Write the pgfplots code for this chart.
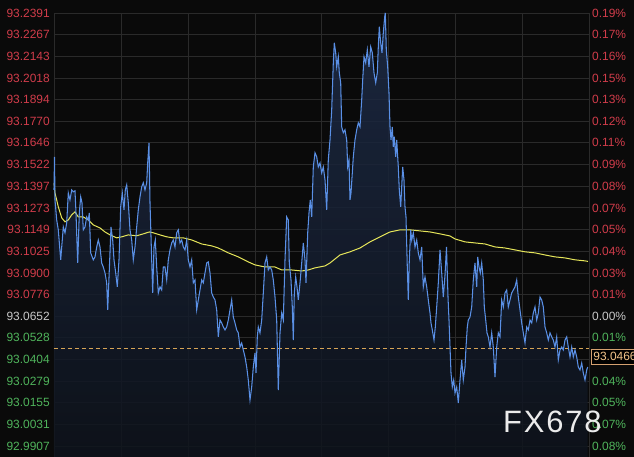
\documentclass[border=0pt]{standalone}
\usepackage{pgfplots}
\usepackage{pgfplotstable}
\pgfplotsset{compat=1.18}
\usepackage{fontspec}
\setmainfont{Liberation Sans}
\definecolor{bgc}{HTML}{0A0A0A}
\definecolor{gridc}{HTML}{2A2A2A}
\definecolor{rd}{HTML}{D03C4A}
\definecolor{gn}{HTML}{4FB35B}
\definecolor{mid}{HTML}{C8C8C8}
\definecolor{bl}{HTML}{5A90E6}
\definecolor{yl}{HTML}{E6E65A}
\definecolor{dsh}{HTML}{D6A456}
\definecolor{boxc}{HTML}{D4A070}
\definecolor{boxt}{HTML}{F2C48A}
\definecolor{fillt}{RGB}{30,44,72}
\definecolor{fillb}{RGB}{14,19,28}

\pgfplotstableread{
x y
0 93.1376
0.5 93.1566
1 93.1319
2.7 93.1204
4.3 93.1147
6.7 93.0975
9.3 93.1164
11 93.1130
12.7 93.1187
14.3 93.1359
16 93.1319
17.7 93.1376
19.3 93.1365
21 93.1371
22 93.1244
23.7 93.0957
25.3 93.1244
26.7 93.1336
28 93.1302
29.3 93.1147
31 93.1164
32.7 93.1221
34.3 93.1204
35.3 93.1244
36.7 93.1015
39.3 93.0975
41 93.0992
42.7 93.1049
44.3 93.1089
46 93.1049
47.7 93.0957
49.3 93.0934
51 93.0900
52.7 93.0843
53.7 93.0688
55.3 93.0917
57 93.1164
58.7 93.1089
60 93.0975
61.7 93.0900
63.3 93.0820
65 93.0975
66.7 93.1279
68.3 93.1359
70 93.1262
71.3 93.1376
72.7 93.1405
74.3 93.1302
76 93.1147
77.7 93.1089
79.3 93.0975
81 93.1049
82.7 93.1164
84.3 93.1262
86 93.1336
87.7 93.1394
89.3 93.1417
91 93.1376
92.7 93.1417
93.7 93.1531
95 93.1646
96 93.1302
97.7 93.0975
98.7 93.0785
100 93.1049
101.3 93.1089
102.7 93.0934
104.3 93.0785
106 93.0820
107.7 93.0802
109.3 93.0934
111 93.0934
112.7 93.0860
114.3 93.0975
116 93.1032
117.7 93.1072
119.3 93.1089
121 93.1049
122.7 93.1130
124.3 93.1147
126 93.1072
127.7 93.1089
129.3 93.1049
131 93.1032
132.7 93.1089
134.3 93.0975
136 93.0934
137.7 93.0975
139.3 93.0843
141 93.0860
142.7 93.0688
144.3 93.0745
146 93.0802
147.7 93.0860
149.3 93.0843
151 93.0900
152.7 93.0957
154.3 93.0963
156 93.0900
157.7 93.0785
159.3 93.0762
161 93.0745
162.7 93.0688
164.3 93.0533
166 93.0630
167.7 93.0613
169.3 93.0590
171 93.0573
172.7 93.0590
174.3 93.0630
176 93.0688
177.7 93.0745
179.3 93.0647
181 93.0613
182.7 93.0573
184.3 93.0556
186 93.0475
187.7 93.0498
189.3 93.0458
191 93.0418
192.7 93.0360
194.3 93.0286
196 93.0171
197.7 93.0246
199.3 93.0360
201 93.0441
202 93.0326
203.3 93.0533
204.3 93.0590
206 93.0556
207.7 93.0630
209.3 93.0785
211 93.0957
212.7 93.0992
214.3 93.0917
216 93.0934
217.7 93.0917
219.3 93.0860
221 93.0762
222.7 93.0630
224.3 93.0228
226 93.0556
227.7 93.0670
229.3 93.0630
231 93.0975
232.7 93.1221
234.3 93.1204
235.3 93.0957
237 93.0860
238.3 93.0705
239.3 93.0515
240.3 93.0785
241.7 93.0877
243 93.0820
244.3 93.0745
246 93.0843
247.7 93.0957
249.3 93.1072
251 93.0975
252 93.0843
253.7 93.1130
255 93.1244
256.3 93.1319
257.7 93.1221
259.3 93.1508
261 93.1589
262.7 93.1566
264.3 93.1508
266 93.1531
267.7 93.1474
269.3 93.1508
271 93.1434
272.7 93.1262
274.3 93.1549
276 93.1663
277.7 93.1836
279.3 93.2105
280.3 93.2220
281.7 93.2163
282.7 93.2082
284.3 93.2140
285.3 93.2048
286.7 93.1991
287.7 93.1738
289.3 93.1704
291 93.1721
292.7 93.1663
293.7 93.1508
295 93.1549
296 93.1319
297 93.1359
298.3 93.1474
299.3 93.1566
301 93.1663
302.7 93.1721
304.3 93.1761
306 93.1738
307.7 93.1893
308.7 93.2008
310 93.2140
311.7 93.2105
313.3 93.2180
315 93.2082
316.7 93.2197
318.3 93.2163
320 93.2048
321.7 93.1991
323.3 93.2048
324.3 93.2197
325.3 93.2312
326.7 93.2220
328 93.2163
329.3 93.2278
330.7 93.2369
331.3 93.2392
332.3 93.2180
333.7 93.2082
335 93.1933
336 93.1738
337 93.1663
338.3 93.1738
339.3 93.1623
340.3 93.1681
341.7 93.1566
342.7 93.1663
344.3 93.1508
345.3 93.1376
346.7 93.1279
347.7 93.1394
348.7 93.1508
350 93.1434
351 93.1279
352 93.1221
353.3 93.0934
354.3 93.0745
355.3 93.0975
356.7 93.1147
357.7 93.1089
359.3 93.1130
361 93.1049
362.7 93.1089
364.3 93.1015
366 93.0975
367.7 93.1049
369.3 93.0820
371 93.0877
372.7 93.0820
374.3 93.0745
376 93.0670
377 93.0613
378.3 93.0573
380 93.0515
381.3 93.0590
382.7 93.0705
384.3 93.0843
386 93.1032
387.7 93.0900
389.3 93.0762
391 93.0888
392.5 93.1049
394 93.0762
395 93.0630
396 93.0475
397 93.0326
398.3 93.0246
399.7 93.0286
401 93.0211
402.7 93.0246
404.3 93.0154
406 93.0286
407.7 93.0401
409.3 93.0286
411 93.0360
412 93.0475
413.3 93.0590
414.3 93.0630
416 93.0647
417.7 93.0705
419.3 93.0860
421 93.0957
422.7 93.0820
423.7 93.0992
425 93.0934
426.3 93.0900
427.7 93.0957
429.3 93.0860
430.3 93.0705
431.7 93.0630
433 93.0556
434.3 93.0533
436 93.0475
437.7 93.0556
439.3 93.0475
441 93.0303
442.7 93.0475
444.3 93.0556
446 93.0533
447.7 93.0745
449.3 93.0705
451 93.0785
452.7 93.0802
454.3 93.0705
456 93.0745
457.7 93.0785
459.3 93.0802
461 93.0820
462.7 93.0860
464.3 93.0762
466 93.0688
467.7 93.0613
469.3 93.0556
471 93.0498
472.7 93.0590
474.3 93.0573
476 93.0630
477.7 93.0613
479.3 93.0670
481 93.0705
482.7 93.0630
484.3 93.0670
486 93.0762
487.7 93.0745
489.3 93.0705
491 93.0590
492.7 93.0556
494.3 93.0515
496 93.0556
497.7 93.0533
499.3 93.0515
501 93.0475
502.7 93.0533
504.3 93.0401
506 93.0458
507.7 93.0475
509.3 93.0458
511 93.0515
512.7 93.0533
514.3 93.0475
516 93.0418
517.7 93.0475
519.3 93.0418
521 93.0458
522.7 93.0418
524.3 93.0360
526 93.0343
527.7 93.0383
529.3 93.0326
531 93.0286
532.7 93.0343
533.7 93.0360
}\bluedata

\pgfplotstableread{
x y
0 93.1417
1 93.1359
4.3 93.1279
7.7 93.1216
11 93.1193
14.3 93.1204
17.7 93.1233
21 93.1250
24.3 93.1221
29.3 93.1221
34.3 93.1204
39.3 93.1175
46 93.1158
51 93.1135
56 93.1118
62.7 93.1101
67.7 93.1107
74.3 93.1118
82.7 93.1113
89.3 93.1124
95.3 93.1135
99.3 93.1130
106 93.1118
112.7 93.1107
119.3 93.1101
129.3 93.1101
137.7 93.1089
147.7 93.1066
157.7 93.1055
164.3 93.1043
174.3 93.1015
184.3 93.0992
194.3 93.0963
201 93.0946
211 93.0934
221 93.0934
227.7 93.0917
237.7 93.0917
247.7 93.0911
254.3 93.0917
261 93.0929
271 93.0940
276 93.0957
286 93.1003
296 93.1021
306 93.1043
316 93.1078
326 93.1107
336 93.1135
346 93.1147
356 93.1147
366 93.1141
376 93.1135
386 93.1124
396 93.1112
401 93.1095
411 93.1078
421 93.1072
431 93.1066
441 93.1049
451 93.1043
461 93.1032
471 93.1021
481 93.1015
491 93.1003
501 93.0992
511 93.0986
521 93.0975
531 93.0969
534 93.0966
}\yellowdata

\begin{document}
\begin{tikzpicture}
\fill[bgc] (-54bp,0) rectangle (580bp,457bp);
\begin{axis}[
  at={(0,0)}, anchor=south west,
  scale only axis, width=535bp, height=444bp,
  xmin=0, xmax=535, ymin=92.9844, ymax=93.2391,
  clip=false,
  xtick={0,67,134,201,267,334,401,468,535},
  xticklabels={},
  ytick={92.9907,93.0031,93.0155,93.0279,93.0404,93.0528,93.0652,93.0776,93.0900,93.1025,93.1149,93.1273,93.1397,93.1522,93.1646,93.1770,93.1894,93.2018,93.2143,93.2267,93.2391},
  yticklabels={\textcolor{gn}{92.9907},\textcolor{gn}{93.0031},\textcolor{gn}{93.0155},\textcolor{gn}{93.0279},\textcolor{gn}{93.0404},\textcolor{gn}{93.0528},\textcolor{mid}{93.0652},\textcolor{rd}{93.0776},\textcolor{rd}{93.0900},\textcolor{rd}{93.1025},\textcolor{rd}{93.1149},\textcolor{rd}{93.1273},\textcolor{rd}{93.1397},\textcolor{rd}{93.1522},\textcolor{rd}{93.1646},\textcolor{rd}{93.1770},\textcolor{rd}{93.1894},\textcolor{rd}{93.2018},\textcolor{rd}{93.2143},\textcolor{rd}{93.2267},\textcolor{rd}{93.2391}},
  ytick pos=left,
  yticklabel style={font=\fontsize{12}{12}\selectfont, anchor=east, inner sep=0pt, xshift=-4bp},
  grid=major,
  major grid style={draw=gridc, line width=0.8bp},
  axis line style={draw=none},
  major tick length=0pt,
  tick style={draw=none},
]
\addplot[draw=none, top color=fillt, bottom color=fillb, fill opacity=0.85] table[x=x,y=y]{\bluedata} \closedcycle;
\addplot[dsh, line width=0.8bp, dash pattern=on 4bp off 3bp] coordinates {(0,93.0466) (535,93.0466)};
\addplot[yl, line width=1bp, mark=none] table[x=x,y=y]{\yellowdata};
\addplot[bl, line width=1.05bp, mark=none] table[x=x,y=y]{\bluedata};
\coordinate (cur) at (axis cs:535,93.0466);
\end{axis}
\begin{axis}[
  at={(0,0)}, anchor=south west,
  scale only axis, width=535bp, height=444bp,
  xmin=0, xmax=535, ymin=92.9844, ymax=93.2391,
  hide x axis,
  axis line style={draw=none},
  ytick={92.9907,93.0031,93.0155,93.0279,93.0404,93.0528,93.0652,93.0776,93.0900,93.1025,93.1149,93.1273,93.1397,93.1522,93.1646,93.1770,93.1894,93.2018,93.2143,93.2267,93.2391},
  yticklabels={\textcolor{gn}{0.08\%},\textcolor{gn}{0.07\%},\textcolor{gn}{0.05\%},\textcolor{gn}{0.04\%},\textcolor{gn}{0.03\%},\textcolor{gn}{0.01\%},\textcolor{mid}{0.00\%},\textcolor{rd}{0.01\%},\textcolor{rd}{0.03\%},\textcolor{rd}{0.04\%},\textcolor{rd}{0.05\%},\textcolor{rd}{0.07\%},\textcolor{rd}{0.08\%},\textcolor{rd}{0.09\%},\textcolor{rd}{0.11\%},\textcolor{rd}{0.12\%},\textcolor{rd}{0.13\%},\textcolor{rd}{0.15\%},\textcolor{rd}{0.16\%},\textcolor{rd}{0.17\%},\textcolor{rd}{0.19\%}},
  ytick pos=right,
  yticklabel pos=right,
  yticklabel style={font=\fontsize{12}{12}\selectfont, anchor=west, inner sep=0pt, xshift=3bp},
  major tick length=0pt,
  tick style={draw=none},
]
\end{axis}
\node[draw=boxc, fill=black, text=boxt, anchor=north west, inner xsep=2.5bp, inner ysep=0pt, minimum height=15bp, line width=0.8bp, font=\fontsize{12}{12}\selectfont] at ([xshift=1.5bp]cur) {93.0466};
\node[anchor=base west, inner sep=0pt, text={rgb,255:red,235;green,235;blue,235}, font=\fontsize{31}{31}\selectfont\addfontfeature{LetterSpace=6}] at (449bp,25bp) {FX678};
\pgfresetboundingbox
\useasboundingbox (-54bp,0) rectangle (580bp,457bp);
\end{tikzpicture}
\end{document}
